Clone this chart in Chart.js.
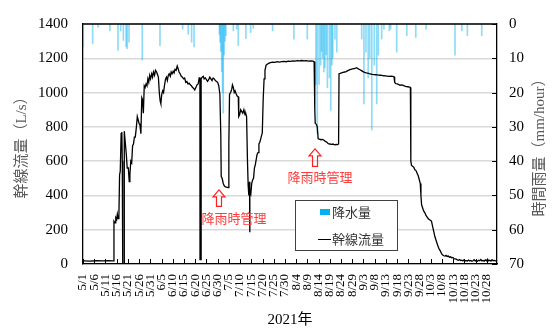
<!DOCTYPE html>
<html>
<head>
<meta charset="utf-8">
<script src="https://cdn.jsdelivr.net/npm/chart.js@4.4.1/dist/chart.umd.min.js"></script>
<style>
  html, body { margin: 0; padding: 0; background: #fff; }
</style>
</head>
<body>
<canvas id="chart" width="556" height="329"></canvas>
<script>
// 日付目盛り (5日おき)
const tickLabels = ['5/1','5/6','5/11','5/16','5/21','5/26','5/31','6/5','6/10','6/15','6/20','6/25','6/30',
  '7/5','7/10','7/15','7/20','7/25','7/30','8/4','8/9','8/14','8/19','8/24','8/29','9/3','9/8','9/13',
  '9/18','9/23','9/28','10/3','10/8','10/13','10/18','10/23','10/28'];

// 幹線流量 (L/s) : 5/1 からの経過日数
const flowDays = [0, 3, 6, 9, 11, 13.5, 13.8, 14.3, 14.6, 15.0, 15.3, 15.6, 16.0, 16.3, 16.6, 17.0, 17.3, 17.5, 17.7,
  18.3, 18.4, 18.9, 19.3, 19.7, 20.2, 20.6, 20.9, 21.3, 21.7, 22.1, 22.5, 22.9, 23.3, 23.8, 24.2, 24.6, 25.0,
  25.4, 25.8, 26.2, 26.5, 26.9, 27.3, 27.7, 28.1, 28.5, 28.9, 29.3, 29.7, 30.1, 30.6, 31.0, 31.4, 31.9, 32.3,
  32.8, 33.2, 33.6, 34.0, 34.4, 34.7, 35.1, 35.5, 35.9, 36.3, 36.8, 37.2, 37.6, 38.0, 38.4, 38.9, 39.3, 39.7,
  40.2, 40.6, 41.0, 41.5, 42.0, 42.4, 42.8, 43.3, 43.8, 44.3, 44.8, 45.3, 45.8, 46.3, 46.8, 47.3, 47.8, 48.3,
  48.8, 49.3, 49.8, 50.3, 50.8, 51.3, 51.8, 52.1, 52.15, 52.6, 52.65, 53.1, 53.6, 54.0, 54.5, 55.0, 55.5, 56.0,
  56.5, 57.0, 57.5, 58.0, 58.5, 59.0, 59.5, 60.0, 60.5, 61.0, 61.4, 61.6, 62.0, 62.5, 63.0, 63.5, 64.0, 64.7,
  65.0, 65.3, 65.8, 66.3, 66.6, 67.0, 67.4, 67.8, 68.2, 68.7, 69.2, 69.4, 69.8, 70.3, 70.7, 71.2, 71.7, 72.2,
  72.6, 72.9, 73.3, 73.6, 73.9, 74.2, 74.3, 74.4, 74.8, 75.2, 75.6, 76.0, 76.4, 76.8, 77.2, 77.6, 78.0, 78.4,
  78.8, 79.2, 79.6, 79.9, 80.3, 80.7, 81.1, 81.6, 82.1, 82.7, 83.5, 84.5, 85.5, 86.5, 87.5, 88.5, 89.5, 90.5,
  91.5, 92.5, 93.5, 94.5, 95.5, 96.5, 97.5, 98.5, 99.5, 100.5, 101.5, 102.5, 103.0, 103.3, 103.5, 104.0, 104.4,
  104.8, 105.3, 106.0, 106.7, 107.4, 108.0, 108.7, 109.3, 110.0, 110.7, 111.4, 112.1, 112.8, 113.5, 113.9,
  114.1, 114.6, 115.2, 115.9, 116.6, 117.3, 118.0, 118.7, 119.4, 120.1, 120.8, 121.5, 122.0, 122.7, 123.4,
  124.1, 124.8, 125.5, 126.2, 126.9, 127.6, 128.3, 129.0, 129.7, 130.4, 131.1, 131.8, 132.5, 133.2, 134.0,
  134.8, 135.6, 136.4, 137.2, 138.0, 138.6, 138.9, 139.3, 139.9, 140.6, 141.3, 142.0, 142.7, 143.4, 144.1,
  144.8, 145.5, 145.9, 146.1, 146.4, 146.9, 147.4, 147.9, 148.4, 148.9, 149.4, 149.9, 150.3, 150.6, 150.9,
  151.3, 151.8, 152.3, 152.8, 153.3, 153.8, 154.3, 154.8, 155.3, 155.8, 156.3, 156.8, 157.3, 157.8, 158.3,
  158.8, 159.3, 159.8, 160.3, 160.8, 161.3, 161.8, 162.3, 162.8, 163.3, 163.8, 164.3, 164.8, 165.3, 165.8,
  166.3, 166.8, 167.3, 167.8, 168.3, 168.8, 169.3, 169.8, 170.3, 170.8, 171.3, 171.8, 172.3, 172.8, 173.3,
  173.8, 174.3, 174.8, 175.3, 175.8, 176.3, 176.8, 177.3, 177.8, 178.3, 178.8, 179.3, 179.8, 180.3, 180.8,
  181.3, 181.8, 182.3, 182.8, 183.3, 183.8, 184.4];
const flowValues = [18, 17, 19, 18, 20, 18, 250, 240, 270, 260, 290, 265, 280, 520, 540, 760, 770, 600, 0,
  0, 775, 700, 640, 560, 560, 480, 520, 600, 590, 690, 700, 740, 740, 800, 860, 840, 820,
  810, 760, 970, 960, 880, 1040, 1030, 1050, 1040, 1080, 1060, 1100, 1080, 1110, 1090, 1120, 1100, 1130,
  1120, 1105, 1090, 1000, 950, 935, 990, 1010, 1000, 1040, 1080, 1090, 1070, 1100, 1110, 1095, 1120, 1110,
  1125, 1115, 1135, 1130, 1155, 1140, 1120, 1110, 1095, 1090, 1080, 1085, 1060, 1065, 1050, 1055, 1045, 1040,
  1030, 1025, 1015, 1030, 1045, 1050, 1085, 1090, 25, 25, 1080, 1090, 1095, 1080, 1085, 1075, 1065, 1075,
  1090, 1080, 1070, 1085, 1080, 1070, 1065, 1060, 1040, 990, 760, 510, 500, 470, 455, 450, 448, 445,
  700, 990, 1000, 1020, 1045, 1030, 1000, 1010, 995, 980, 975, 860, 870, 900, 890, 880, 900, 870,
  875, 860, 600, 460, 400, 480, 185, 430, 410, 470, 490, 500, 560, 580, 610, 640, 650, 700,
  710, 730, 750, 765, 960, 1080, 1130, 1160, 1165, 1170, 1175, 1178, 1176, 1180, 1178, 1180, 1182, 1180,
  1183, 1182, 1185, 1183, 1186, 1185, 1187, 1185, 1186, 1184, 1185, 1183, 1180, 900, 820, 815, 800,
  730, 728, 725, 727, 722, 715, 710, 702, 700, 698, 700, 695, 697, 696, 700,
  1110, 1112, 1115, 1118, 1120, 1122, 1128, 1132, 1135, 1138, 1140, 1142, 1145, 1138, 1133,
  1128, 1122, 1118, 1115, 1113, 1110, 1108, 1106, 1105, 1104, 1103, 1102, 1101, 1100, 1098,
  1097, 1096, 1095, 1096, 1094, 1092, 1060, 1053, 1050, 1048, 1043, 1045, 1042, 1038, 1035,
  1034, 1032, 1030, 600, 575, 570, 565, 550, 545, 530, 515, 490, 470, 400, 345,
  330, 310, 300, 285, 275, 265, 260, 255, 250, 220, 190, 160, 140, 120, 100,
  85, 75, 60, 52, 48, 46, 50, 44, 47, 40, 42, 36, 38, 32, 30,
  28, 24, 22, 26, 20, 22, 18, 24, 19, 20, 17, 23, 18, 21, 16,
  19, 25, 18, 20, 16, 22, 19, 26, 18, 21, 17, 24, 19, 28, 18,
  22, 17, 25, 19, 21, 18, 20];

// 時間雨量 (mm/hour)
const rainDays = [0.13, 4.3, 6.7, 12.0, 15.6, 16.8, 18.0, 19.2, 19.7, 20.5, 26.4, 34.3, 44.4, 46.9, 48.4, 49.5,
  60.8, 61.05, 61.4, 61.8, 62.2, 62.5, 62.9, 63.3, 63.7, 67.0, 68.5, 69.2, 72.6, 74.7, 75.9, 84.5, 94.0,
  99.95, 103.8, 104.4, 105.2, 105.9, 106.3, 106.8, 107.3, 107.8, 108.4, 108.9, 109.8, 110.4, 110.9, 111.3,
  112.3, 113.1, 124.2, 125.2, 126.1, 127.1, 127.8, 128.7, 129.8, 130.9, 131.6, 133.1, 134.1, 136.5, 137.1,
  139.8, 144.3, 148.3, 152.9, 165.8, 168.8, 171.3, 177.7];
const rainValues = [6.7, 5.7, 1, 2, 7.7, 2, 4.8, 6.7, 7.2, 5.3, 10.5, 6.3, 1.5, 3, 5.3, 6.7,
  3, 5.3, 8, 13.9, 20, 26, 9, 5, 3.4, 2, 1.5, 6.3, 4.3, 2.5, 1.3, 2, 4.4,
  4.4, 17.6, 31.9, 17.6, 12, 8, 10, 14, 12.8, 9, 18.6, 15.7, 25.2, 12, 10,
  4.4, 8.2, 4.4, 23.3, 8.2, 15.7, 10, 30.9, 12, 23.3, 9.1, 4.4, 1.5, 2, 1.5,
  8.2, 3.4, 3.9, 1.5, 9.1, 2, 3.4, 3.4];

// 降雨時管理の注記 (日数, 流量)
const notes = [
  { day: 60.6, arrowTop: 432, arrowBottom: 336, textDay: 67.3, textValue: 267 },
  { day: 103.4, arrowTop: 672, arrowBottom: 569, textDay: 105.6, textValue: 506 }
];

const serif = "'Liberation Serif', 'Noto Sans CJK JP', serif";
const cjk = "'Noto Sans CJK JP', sans-serif";

// 枠の上辺・内向き目盛り・右軸タイトル・凡例・注記
const extras = {
  id: 'extras',
  afterDraw(chart) {
    const { ctx, chartArea: a, scales } = chart;
    ctx.save();
    ctx.strokeStyle = '#000';
    ctx.lineWidth = 1.3;
    ctx.beginPath();
    ctx.moveTo(a.left, a.top);
    ctx.lineTo(a.right, a.top);
    ctx.stroke();

    ctx.lineWidth = 1;
    ctx.beginPath();
    scales.x.ticks.forEach(t => {
      const px = Math.round(scales.x.getPixelForValue(t.value)) + 0.5;
      ctx.moveTo(px, a.bottom);
      ctx.lineTo(px, a.bottom - 5);
    });
    scales.y2.ticks.forEach(t => {
      const py = Math.round(scales.y2.getPixelForValue(t.value)) + 0.5;
      ctx.moveTo(a.right, py);
      ctx.lineTo(a.right - 5, py);
    });
    ctx.stroke();

    // 右軸タイトル (下から上へ)
    ctx.save();
    ctx.translate(540, (a.top + a.bottom) / 2);
    ctx.rotate(-Math.PI / 2);
    ctx.fillStyle = '#595959';
    ctx.font = '15px ' + serif;
    ctx.textAlign = 'center';
    ctx.textBaseline = 'middle';
    ctx.fillText('時間雨量（mm/hour）', 0, 0);
    ctx.restore();

    // 凡例
    ctx.fillStyle = '#fff';
    ctx.fillRect(295.5, 200.5, 102, 50);
    ctx.strokeStyle = '#404040';
    ctx.lineWidth = 1;
    ctx.strokeRect(295.5, 200.5, 102, 50);
    ctx.fillStyle = '#00B0F0';
    ctx.fillRect(320, 209, 10, 6);
    ctx.strokeStyle = '#000';
    ctx.beginPath();
    ctx.moveTo(318, 239.5);
    ctx.lineTo(331, 239.5);
    ctx.stroke();
    ctx.fillStyle = '#333';
    ctx.font = '13px ' + cjk;
    ctx.textAlign = 'left';
    ctx.textBaseline = 'middle';
    ctx.fillText(chart.data.datasets[1].label, 332, 212);
    ctx.fillText(chart.data.datasets[0].label, 332, 239);

    // 注記 (赤い矢印と文字)
    const xs = scales.x, ys = scales.y;
    ctx.strokeStyle = '#FF2020';
    ctx.fillStyle = '#FF3B3B';
    ctx.lineWidth = 1.2;
    notes.forEach(n => {
      const cx = xs.getPixelForValue(n.day);
      const top = ys.getPixelForValue(n.arrowTop);
      const bot = ys.getPixelForValue(n.arrowBottom);
      const head = 7;
      ctx.beginPath();
      ctx.moveTo(cx, top);
      ctx.lineTo(cx + 6, top + head);
      ctx.lineTo(cx + 2.5, top + head);
      ctx.lineTo(cx + 2.5, bot);
      ctx.lineTo(cx - 2.5, bot);
      ctx.lineTo(cx - 2.5, top + head);
      ctx.lineTo(cx - 6, top + head);
      ctx.closePath();
      ctx.stroke();
      ctx.textAlign = 'center';
      ctx.font = '13px ' + cjk;
      ctx.fillText('降雨時管理', xs.getPixelForValue(n.textDay), ys.getPixelForValue(n.textValue));
    });
    ctx.restore();
  }
};

new Chart(document.getElementById('chart'), {
  type: 'line',
  data: {
    datasets: [
      {
        label: '幹線流量',
        type: 'line',
        data: flowDays.map((d, i) => ({ x: d, y: flowValues[i] })),
        yAxisID: 'y',
        borderColor: '#000',
        borderWidth: 1.3,
        pointRadius: 0,
        tension: 0,
        order: 1
      },
      {
        label: '降水量',
        type: 'bar',
        data: rainDays.map((d, i) => ({ x: d, y: rainValues[i] })),
        yAxisID: 'y2',
        backgroundColor: 'rgba(0,176,240,0.45)',
        barThickness: 1,
        grouped: false,
        order: 2
      }
    ]
  },
  options: {
    responsive: false,
    animation: false,
    layout: { padding: { top: 18, left: 0, right: 0, bottom: 0 } },
    plugins: { legend: { display: false }, tooltip: { enabled: false } },
    scales: {
      x: {
        type: 'linear',
        min: 0,
        max: 184.5,
        offset: false,
        afterBuildTicks: s => { s.ticks = tickLabels.map((_, i) => ({ value: i * 5 })); },
        afterFit: s => { s.height = 65; },
        grid: { display: false, drawTicks: false, offset: false },
        border: { color: '#000', width: 1.3 },
        ticks: {
          autoSkip: false,
          minRotation: 90,
          maxRotation: 90,
          padding: 10,
          color: '#000',
          font: { family: serif, size: 13 },
          callback: v => tickLabels[Math.round(v / 5)] || ''
        },
        title: {
          display: true,
          text: '2021年',
          color: '#000',
          padding: { top: 0, bottom: 0 },
          font: { family: serif, size: 15 }
        }
      },
      y: {
        position: 'left',
        min: 0,
        max: 1400,
        afterFit: s => { s.width = 83; },
        grid: { color: '#d9d9d9', lineWidth: 1.5, drawTicks: false },
        border: { color: '#000', width: 1.3 },
        ticks: { stepSize: 200, padding: 15, color: '#000', font: { family: serif, size: 15 }, callback: v => String(v) },
        title: {
          display: true,
          text: '幹線流量（L/s）',
          color: '#595959',
          padding: { top: 13, bottom: 0 },
          font: { family: serif, size: 15 }
        }
      },
      y2: {
        position: 'right',
        min: 0,
        max: 70,
        reverse: true,
        afterFit: s => { s.width = 59; },
        grid: { display: false, drawTicks: false },
        border: { color: '#000', width: 1.3 },
        ticks: { stepSize: 10, padding: 12, color: '#000', font: { family: serif, size: 15 }, callback: v => String(v) }
      }
    }
  },
  plugins: [extras]
});
</script>
</body>
</html>
